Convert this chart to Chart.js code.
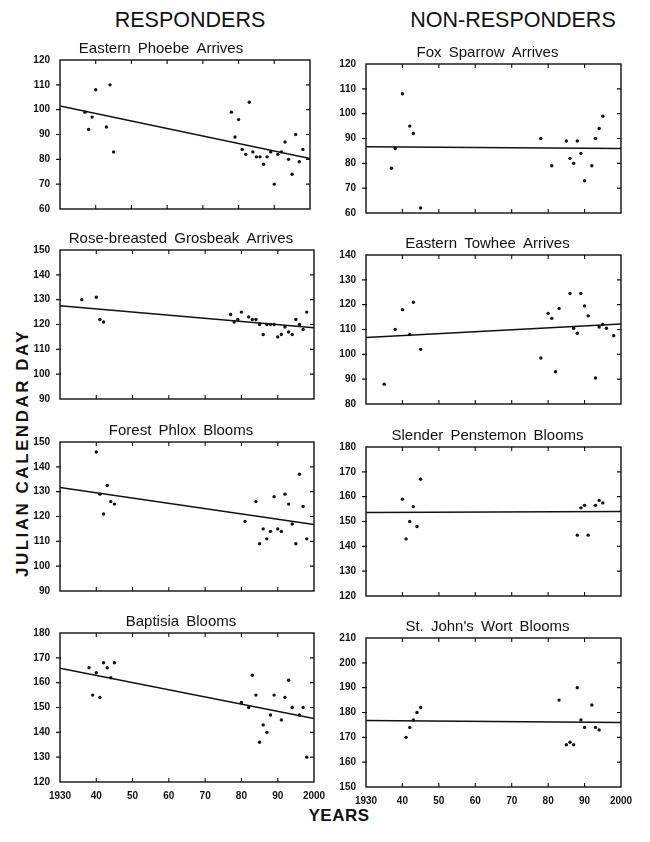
<!DOCTYPE html>
<html>
<head>
<meta charset="utf-8">
<script src="https://cdn.jsdelivr.net/npm/chart.js@4.4.0/dist/chart.umd.min.js"></script>
<style>
html,body{margin:0;padding:0;background:#fff;}
body{width:650px;height:842px;position:relative;overflow:hidden;font-family:"Liberation Sans",Arial,sans-serif;color:#111;}
canvas{position:absolute;}
.hdr{position:absolute;font-size:21.5px;line-height:1;transform:translateX(-50%);white-space:nowrap;top:9.5px;}
.ytitle{position:absolute;font-weight:bold;font-size:17px;line-height:1;left:22px;top:453px;transform:translate(-50%,-50%) rotate(-90deg);white-space:nowrap;letter-spacing:2.5px;}
.xtitle{position:absolute;font-weight:bold;font-size:17px;line-height:1;left:339px;top:815px;transform:translate(-50%,-50%);white-space:nowrap;letter-spacing:0.5px;}
</style>
</head>
<body>
<div class="hdr" style="left:190px">RESPONDERS</div>
<div class="hdr" style="left:513px">NON-RESPONDERS</div>
<div class="ytitle">JULIAN CALENDAR DAY</div>
<div class="xtitle">YEARS</div>
<script>
// ---------- data ----------
const xTickLabels = ['1930', '40', '50', '60', '70', '80', '90', '2000'];
const trendYears = [1930, 2000];

const phoebeYears = [1937,1938,1939,1940,1943,1944,1945,1978,1979,1980,1981,1982,1983,1984,1985,1986,1987,1988,1989,1990,1991,1992,1993,1994,1995,1996,1997,1998];
const phoebeDays  = [99,92,97,108,93,110,83,99,89,96,84,82,103,83,81,81,78,81,83,70,82,83,87,80,74,90,79,84];
const phoebeTrend = [101.5, 80.3];
const phoebeRange = [60, 120];

const foxYears = [1937,1938,1940,1942,1943,1945,1978,1981,1985,1986,1987,1988,1989,1990,1992,1993,1994,1995];
const foxDays  = [78,86,108,95,92,62,90,79,89,82,80,89,84,73,79,90,94,99];
const foxTrend = [86.7, 86.0];
const foxRange = [60, 120];

const grosbeakYears = [1936,1940,1941,1942,1977,1978,1979,1980,1982,1983,1984,1985,1986,1987,1988,1989,1990,1991,1992,1993,1994,1995,1996,1997,1998];
const grosbeakDays  = [130,131,122,121,124,121,122,125,123,122,122,120,116,120,120,120,115,116,119,117,116,122,120,118,125];
const grosbeakTrend = [127.6, 118.7];
const grosbeakRange = [90, 150];

const towheeYears = [1935,1938,1940,1942,1943,1945,1978,1980,1981,1982,1983,1986,1987,1988,1989,1990,1991,1993,1994,1995,1996,1998];
const towheeDays  = [88,110,118,108,121,102,98.5,116.5,114.5,93,118.5,124.5,110.5,108.5,124.5,119.5,115.5,90.5,111,112,110.5,107.5];
const towheeTrend = [106.8, 112.2];
const towheeRange = [80, 140];

const phloxYears = [1940,1941,1942,1943,1944,1945,1981,1984,1985,1986,1987,1988,1989,1990,1991,1992,1993,1994,1995,1996,1997,1998];
const phloxDays  = [146,129,121,132.5,126,125,118,126,109,115,111,114,128,115,114,129,125,117,109,137,124,111];
const phloxTrend = [131.7, 116.8];
const phloxRange = [90, 150];

const penstemonYears = [1940,1941,1942,1943,1944,1945,1988,1989,1990,1991,1993,1994,1995];
const penstemonDays  = [159,143,150,156,148,167,144.5,155.5,156.5,144.5,156.5,158.5,157.5];
const penstemonTrend = [153.6, 154.0];
const penstemonRange = [120, 180];

const baptisiaYears = [1938,1939,1940,1941,1942,1943,1944,1945,1980,1982,1983,1984,1985,1986,1987,1988,1989,1991,1992,1993,1994,1996,1997,1998];
const baptisiaDays  = [166,155,164,154,168,166,162,168,152,150,163,155,136,143,140,147,155,145,154,161,150,147,150,130];
const baptisiaTrend = [165.8, 145.6];
const baptisiaRange = [120, 180];

const wortYears = [1941,1942,1943,1944,1945,1983,1985,1986,1987,1988,1989,1990,1992,1993,1994];
const wortDays  = [170,174,177,180,182,185,167,168,167,190,177,174,183,174,173];
const wortTrend = [176.8, 176.0];
const wortRange = [150, 210];

// ---------- layout ----------
const FONT = '"Liberation Sans", Arial, sans-serif';
const AXIS_W = 42, TITLE_H = 24, XAXIS_H = 20, PLOT_H = 150;

const panels = [
  {title:'Eastern Phoebe Arrives', years:phoebeYears, days:phoebeDays, trend:phoebeTrend, range:phoebeRange, left:60, top:59, w:254, padL:10, padR:0, xLabels:false},
  {title:'Fox Sparrow Arrives', years:foxYears, days:foxDays, trend:foxTrend, range:foxRange, left:366, top:63, w:255, padL:0, padR:30, xLabels:false},
  {title:'Rose-breasted Grosbeak Arrives', years:grosbeakYears, days:grosbeakDays, trend:grosbeakTrend, range:grosbeakRange, left:60, top:249, w:254, padL:0, padR:30, xLabels:false},
  {title:'Eastern Towhee Arrives', years:towheeYears, days:towheeDays, trend:towheeTrend, range:towheeRange, left:366, top:254, w:255, padL:0, padR:30, xLabels:false},
  {title:'Forest Phlox Blooms', years:phloxYears, days:phloxDays, trend:phloxTrend, range:phloxRange, left:60, top:441, w:254, padL:0, padR:30, xLabels:false},
  {title:'Slender Penstemon Blooms', years:penstemonYears, days:penstemonDays, trend:penstemonTrend, range:penstemonRange, left:366, top:446, w:255, padL:0, padR:30, xLabels:false},
  {title:'Baptisia Blooms', years:baptisiaYears, days:baptisiaDays, trend:baptisiaTrend, range:baptisiaRange, left:60, top:632, w:254, padL:0, padR:30, xLabels:true},
  {title:"St. John's Wort Blooms", years:wortYears, days:wortDays, trend:wortTrend, range:wortRange, left:366, top:637, w:255, padL:0, padR:30, xLabels:true}
];

// wider word spacing in the panel titles (as in the reference typesetting)
const spacingPlugin = {
  id: 'spacing',
  beforeDraw(chart) { chart.ctx.wordSpacing = '3px'; },
  afterDraw(chart) { chart.ctx.wordSpacing = '0px'; }
};

// frame + tick marks drawn from the scales
const framePlugin = {
  id: 'frame',
  afterDraw(chart) {
    const {ctx, chartArea: a, scales: {x, y}} = chart;
    ctx.save();
    ctx.strokeStyle = '#111';
    ctx.lineWidth = 1.4;
    ctx.strokeRect(a.left, a.top, a.right - a.left, a.bottom - a.top);
    ctx.lineWidth = 1.1;
    ctx.beginPath();
    y.ticks.forEach(t => {
      const py = y.getPixelForValue(t.value);
      if (Math.abs(py - a.top) < 1 || Math.abs(py - a.bottom) < 1) return;
      ctx.moveTo(a.left - 4, py); ctx.lineTo(a.left + 1, py);
      ctx.moveTo(a.right - 4, py); ctx.lineTo(a.right, py);
    });
    x.ticks.forEach(t => {
      const px = x.getPixelForValue(t.value);
      if (Math.abs(px - a.left) < 1 || Math.abs(px - a.right) < 1) return;
      ctx.moveTo(px, a.top); ctx.lineTo(px, a.top + 4);
      ctx.moveTo(px, a.bottom); ctx.lineTo(px, a.bottom - 4);
    });
    ctx.stroke();
    ctx.restore();
  }
};

// empty spacer axis (reserves room beside the plot so the title centres as in the reference)
function spacer(position, width) {
  return {
    type: 'linear', position: position, weight: 10, display: true,
    grid: {display: false, drawTicks: false}, border: {display: false},
    ticks: {display: false},
    afterFit: s => { s.width = width; }
  };
}

panels.forEach(p => {
  const cv = document.createElement('canvas');
  const cw = p.padL + AXIS_W + p.w + p.padR;
  const ch = TITLE_H + PLOT_H + XAXIS_H;
  cv.width = cw; cv.height = ch;
  cv.style.width = cw + 'px'; cv.style.height = ch + 'px';
  cv.style.left = (p.left - AXIS_W - p.padL) + 'px';
  cv.style.top = (p.top - TITLE_H) + 'px';
  document.body.appendChild(cv);

  const scales = {
    x: {
      type: 'linear', min: 1930, max: 2000,
      grid: {display: false, drawTicks: false},
      border: {display: false},
      afterFit: s => { s.height = XAXIS_H; },
      ticks: {
        display: p.xLabels, stepSize: 10, padding: 8, color: '#111',
        font: {family: FONT, size: 10, weight: 'bold'},
        maxRotation: 0, autoSkip: false,
        callback: v => xTickLabels[Math.round((v - 1930) / 10)]
      }
    },
    y: {
      type: 'linear', position: 'left', weight: 0, min: p.range[0], max: p.range[1],
      grid: {display: false, drawTicks: false},
      border: {display: false},
      afterFit: s => { s.width = AXIS_W; },
      ticks: {
        stepSize: 10, padding: 10, color: '#111',
        font: {family: FONT, size: 10, weight: 'bold'}
      }
    }
  };
  if (p.padL > 0) scales.padLeft = spacer('left', p.padL);
  if (p.padR > 0) scales.padRight = spacer('right', p.padR);

  new Chart(cv, {
    type: 'scatter',
    data: {
      datasets: [
        {
          data: trendYears.map((yr, i) => ({x: yr, y: p.trend[i]})),
          showLine: true, borderColor: '#111', borderWidth: 1.5,
          pointRadius: 0, fill: false, xAxisID: 'x', yAxisID: 'y'
        },
        {
          data: p.years.map((yr, i) => ({x: yr, y: p.days[i]})),
          pointRadius: 1.7, pointBackgroundColor: '#111', pointBorderWidth: 0,
          showLine: false, xAxisID: 'x', yAxisID: 'y'
        }
      ]
    },
    options: {
      responsive: false,
      animation: false,
      events: [],
      layout: {padding: 0},
      plugins: {
        legend: {display: false},
        tooltip: {enabled: false},
        title: {
          display: true, text: p.title, color: '#111',
          font: {family: FONT, size: 15, weight: 'normal', lineHeight: 1},
          padding: {top: 6, bottom: 4}
        }
      },
      scales: scales
    },
    plugins: [spacingPlugin, framePlugin]
  });
});
</script>
</body>
</html>
